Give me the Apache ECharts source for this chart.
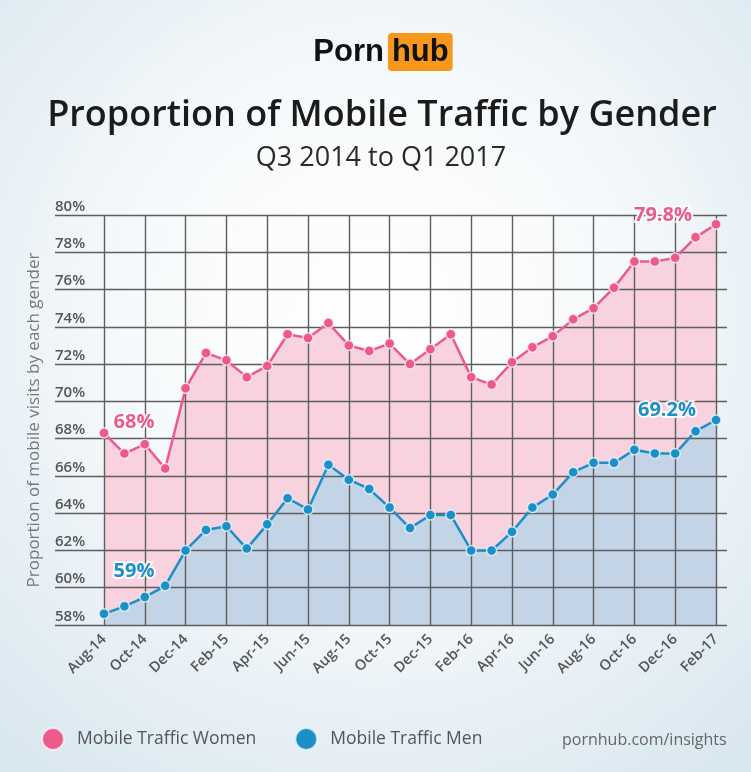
<!DOCTYPE html>
<html>
<head>
<meta charset="utf-8">
<title>Proportion of Mobile Traffic by Gender</title>
<script src="https://cdn.jsdelivr.net/npm/echarts@6/dist/echarts.min.js"></script>
<style>
  html, body { margin: 0; padding: 0; }
  #chart { width: 751px; height: 772px; }
</style>
</head>
<body>
<div id="chart"></div>
<script>
// data, monthly
const months = ['Aug-14', 'Sep-14', 'Oct-14', 'Nov-14', 'Dec-14', 'Jan-15', 'Feb-15', 'Mar-15',
  'Apr-15', 'May-15', 'Jun-15', 'Jul-15', 'Aug-15', 'Sep-15', 'Oct-15', 'Nov-15', 'Dec-15',
  'Jan-16', 'Feb-16', 'Mar-16', 'Apr-16', 'May-16', 'Jun-16', 'Jul-16', 'Aug-16', 'Sep-16',
  'Oct-16', 'Nov-16', 'Dec-16', 'Jan-17', 'Feb-17'];
const women = [68.3, 67.2, 67.7, 66.4, 70.7, 72.6, 72.2, 71.3, 71.9, 73.6, 73.4, 74.2, 73.0, 72.7,
  73.1, 72.0, 72.8, 73.6, 71.3, 70.9, 72.1, 72.9, 73.5, 74.4, 75.0, 76.1, 77.5, 77.5, 77.7, 78.8, 79.5];
const men = [58.6, 59.0, 59.5, 60.1, 62.0, 63.1, 63.3, 62.1, 63.4, 64.8, 64.2, 66.6, 65.8, 65.3,
  64.3, 63.2, 63.9, 63.9, 62.0, 62.0, 63.0, 64.3, 65.0, 66.2, 66.7, 66.7, 67.4, 67.2, 67.2, 68.4, 69.0];
const womenNotes = ['68%', '79.8%'];   // first / last point
const menNotes = ['59%', '69.2%'];
const yMin = 58, yMax = 80, yStep = 2;

const PINK = '#ec5a8b';
const BLUE = '#1b90c6';
const FONT = '"Open Sans", sans-serif';

function noteLabel(text, offset, color) {
  return {
    show: true,
    position: 'inside',
    formatter: text,
    offset: offset,
    color: color,
    fontFamily: FONT,
    fontWeight: 'bold',
    fontSize: 20,
    textBorderColor: 'rgba(255,255,255,0.85)',
    textBorderWidth: 4
  };
}

function withNotes(values, notes, color, firstOff, lastOff) {
  return values.map((v, i) => {
    if (i === 0) return { value: v, label: noteLabel(notes[0], firstOff, color) };
    if (i === values.length - 1) return { value: v, label: noteLabel(notes[1], lastOff, color) };
    return v;
  });
}

const chart = echarts.init(document.getElementById('chart'));

const option = {
  backgroundColor: {
    type: 'radial', x: 0.5, y: 0.42, r: 0.75,
    colorStops: [
      { offset: 0, color: '#ffffff' },
      { offset: 0.45, color: '#f6f9fb' },
      { offset: 1, color: '#d9e7f0' }
    ]
  },
  animation: false,
  graphic: [
    {
      type: 'text', x: 383, y: 52,
      style: {
        text: '{p|Porn}{h|hub}',
        textAlign: 'center', textVerticalAlign: 'middle',
        rich: {
          p: { fontFamily: 'Liberation Sans', fontWeight: 'bold', fontSize: 31, fill: '#111', padding: [0, 4, 0, 0] },
          h: { fontFamily: 'Liberation Sans', fontWeight: 'bold', fontSize: 31, fill: '#111',
               backgroundColor: '#f7981d', borderRadius: 4, padding: [4, 4, 3, 4] }
        }
      }
    },
    {
      type: 'text', x: 382, y: 116,
      style: {
        text: 'Proportion of Mobile Traffic by Gender',
        font: '600 36px ' + FONT, fill: '#1b1b1b',
        textAlign: 'center', textVerticalAlign: 'middle'
      }
    },
    {
      type: 'text', x: 381, y: 158,
      style: {
        text: 'Q3 2014 to Q1 2017',
        font: '27px ' + FONT, fill: '#2a2a2a',
        textAlign: 'center', textVerticalAlign: 'middle'
      }
    },
    {
      type: 'text', x: 562, y: 740,
      style: {
        text: 'pornhub.com/insights',
        font: '16px ' + FONT, fill: '#666',
        textAlign: 'left', textVerticalAlign: 'middle'
      }
    }
  ],
  legend: {
    data: ['Mobile Traffic Women', 'Mobile Traffic Men'],
    icon: 'circle',
    left: 41,
    top: 727,
    itemWidth: 22,
    itemHeight: 22,
    itemGap: 38,
    padding: 0,
    textStyle: { fontFamily: FONT, fontSize: 17.5, color: '#555', padding: [0, 0, 0, 8] }
  },
  grid: [
    { left: 55, right: 24, top: 215, bottom: 147 },   // horizontal grid lines + y labels
    { left: 104, right: 35, top: 215, bottom: 147 }   // data
  ],
  xAxis: [
    { gridIndex: 0, type: 'value', show: false, min: 0, max: 1 },
    {
      gridIndex: 1,
      type: 'category',
      data: months,
      boundaryGap: false,
      z: 2,
      axisLine: { show: false },
      axisTick: { show: false },
      axisLabel: {
        interval: 1, rotate: 45, margin: 12,
        fontFamily: FONT, fontWeight: 600, fontSize: 14.5, color: '#555'
      },
      splitLine: { show: true, interval: 1, lineStyle: { color: '#5e5e5e', width: 1.4 } }
    }
  ],
  yAxis: [
    {
      gridIndex: 0,
      type: 'value',
      min: yMin, max: yMax, interval: yStep,
      z: 2,
      name: 'Proportion of mobile visits by each gender',
      nameLocation: 'middle',
      nameGap: 12,
      nameTextStyle: { fontFamily: FONT, fontSize: 17, color: '#777' },
      axisLine: { show: false },
      axisTick: { show: false },
      axisLabel: {
        inside: true, margin: 0, verticalAlign: 'bottom',
        formatter: '{value}%',
        fontFamily: FONT, fontWeight: 600, fontSize: 15, color: '#555', padding: [0, 0, 1, 0]
      },
      splitLine: { show: true, lineStyle: { color: '#5e5e5e', width: 1.4 } }
    },
    { gridIndex: 1, type: 'value', min: yMin, max: yMax, interval: yStep, show: false, splitLine: { show: false } }
  ],
  series: [
    {
      name: 'women-fill', type: 'line', xAxisIndex: 1, yAxisIndex: 1, z: 1,
      data: women, symbol: 'none', silent: true,
      lineStyle: { width: 0 },
      areaStyle: { color: '#f8d2de', opacity: 1 }
    },
    {
      name: 'men-fill', type: 'line', xAxisIndex: 1, yAxisIndex: 1, z: 1,
      data: men, symbol: 'none', silent: true,
      lineStyle: { width: 0 },
      areaStyle: { color: '#c4d4e7', opacity: 1 }
    },
    {
      name: 'Mobile Traffic Women', type: 'line', xAxisIndex: 1, yAxisIndex: 1, z: 3,
      data: withNotes(women, womenNotes, PINK, [30, -11], [-53, -9]),
      color: PINK,
      symbol: 'circle', symbolSize: 10,
      lineStyle: { color: PINK, width: 2.5 },
      itemStyle: { color: PINK, borderColor: 'rgba(255,240,245,0.8)', borderWidth: 1.5 }
    },
    {
      name: 'Mobile Traffic Men', type: 'line', xAxisIndex: 1, yAxisIndex: 1, z: 3,
      data: withNotes(men, menNotes, BLUE, [30, -43], [-49, -10]),
      color: BLUE,
      symbol: 'circle', symbolSize: 10,
      lineStyle: { color: BLUE, width: 2.5 },
      itemStyle: { color: BLUE, borderColor: 'rgba(235,245,255,0.8)', borderWidth: 1.5 }
    }
  ]
};

chart.setOption(option);
window.addEventListener('resize', () => chart.resize());
</script>
</body>
</html>
